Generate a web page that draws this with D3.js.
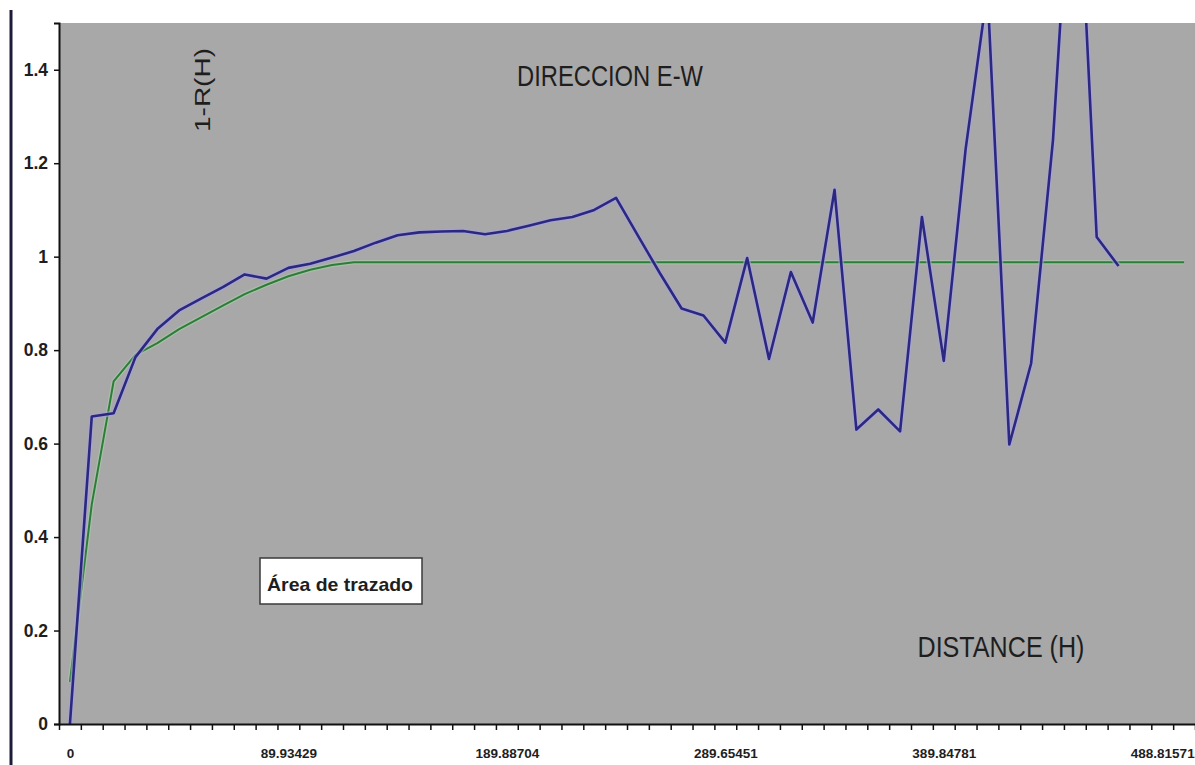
<!DOCTYPE html>
<html>
<head>
<meta charset="utf-8">
<script src="https://cdn.jsdelivr.net/npm/d3@7"></script>
<style>
  html, body { margin: 0; padding: 0; background: #ffffff; }
  svg { display: block; }
  text { font-family: "Liberation Sans", Arial, sans-serif; fill: #1e1e1e; }
</style>
</head>
<body>
<svg id="chart" width="1195" height="765"></svg>
<script>
// Lag categories (one per lag class) and the labels shown along the axis
const categories = d3.range(52);
const tickLabelIndex = [0, 10, 20, 30, 40, 50];
const tickLabels = ["0", "89.93429", "189.88704", "289.65451", "389.84781", "488.81571"];

// Experimental 1-R(H) per lag class
const experimental = [
  0.000, 0.658, 0.665, 0.785, 0.845, 0.885, 0.910, 0.935, 0.962, 0.953,
  0.976, 0.985, 0.998, 1.012, 1.030, 1.046, 1.052, 1.054, 1.055, 1.048,
  1.055, 1.066, 1.078, 1.085, 1.100, 1.126, 1.045, 0.965, 0.889, 0.874,
  0.816, 0.997, 0.781, 0.967, 0.859, 1.143, 0.630, 0.673, 0.626, 1.085,
  0.777, 1.230, 1.570, 0.598, 0.772, 1.250, 2.000, 1.042, 0.980
];

// Fitted model per lag class
const model = [
  0.090, 0.470, 0.733, 0.790, 0.815, 0.845, 0.870, 0.895, 0.920, 0.940,
  0.958, 0.972, 0.982, 0.988, 0.988, 0.988, 0.988, 0.988, 0.988, 0.988,
  0.988, 0.988, 0.988, 0.988, 0.988, 0.988, 0.988, 0.988, 0.988, 0.988,
  0.988, 0.988, 0.988, 0.988, 0.988, 0.988, 0.988, 0.988, 0.988, 0.988,
  0.988, 0.988, 0.988, 0.988, 0.988, 0.988, 0.988, 0.988, 0.988, 0.988,
  0.988, 0.988
];

const yTicks = [0, 0.2, 0.4, 0.6, 0.8, 1, 1.2, 1.4];

const svg = d3.select("#chart");
const plot = { left: 59, right: 1195, top: 23, bottom: 724 };

const x = d3.scalePoint()
  .domain(categories)
  .range([plot.left, plot.right])
  .padding(0.5);

// boundaries between lag classes, for the minor tick marks
const xEdge = d3.scaleLinear()
  .domain([0, categories.length])
  .range([plot.left, plot.right]);

const y = d3.scaleLinear()
  .domain([0, 1.5])
  .range([plot.bottom, plot.top]);

// frame line at the far left
svg.append("line")
  .attr("x1", 11).attr("x2", 11)
  .attr("y1", 10).attr("y2", 765)
  .attr("stroke", "#1c1c3a").attr("stroke-width", 3);

// plot area
svg.append("rect")
  .attr("x", plot.left).attr("y", plot.top)
  .attr("width", plot.right - plot.left)
  .attr("height", plot.bottom - plot.top)
  .attr("fill", "#a8a8a8");

svg.append("clipPath").attr("id", "plot-clip")
  .append("rect")
  .attr("x", plot.left).attr("y", plot.top)
  .attr("width", plot.right - plot.left)
  .attr("height", plot.bottom - plot.top);

const lines = svg.append("g").attr("clip-path", "url(#plot-clip)");

const line = d3.line()
  .x((d, i) => x(categories[i]))
  .y(d => y(d));

// model curve
lines.append("path").datum(model)
  .attr("d", line).attr("fill", "none")
  .attr("stroke", "#a9cfa8").attr("stroke-opacity", 0.55).attr("stroke-width", 4.5)
  .attr("stroke-linejoin", "round");
lines.append("path").datum(model)
  .attr("d", line).attr("fill", "none")
  .attr("stroke", "#2d7d3a").attr("stroke-width", 2)
  .attr("stroke-linejoin", "round");

// experimental curve
lines.append("path").datum(experimental)
  .attr("d", line).attr("fill", "none")
  .attr("stroke", "#a8a2d6").attr("stroke-opacity", 0.65).attr("stroke-width", 5.5)
  .attr("stroke-linejoin", "round");
lines.append("path").datum(experimental)
  .attr("d", line).attr("fill", "none")
  .attr("stroke", "#2a2880").attr("stroke-width", 2.6)
  .attr("stroke-linejoin", "round");

// y axis
const yAxis = svg.append("g")
  .attr("transform", `translate(${plot.left},0)`)
  .call(d3.axisLeft(y).tickValues(yTicks).tickFormat(d3.format("~g")).tickSize(5).tickPadding(6));
yAxis.select(".domain").attr("stroke", "#111").attr("stroke-width", 2);
yAxis.selectAll(".tick line").attr("stroke", "#111").attr("stroke-width", 1.5);
yAxis.selectAll(".tick text")
  .style("font-family", "'Liberation Sans', Arial, sans-serif")
  .style("font-size", "17.5px").style("font-weight", "bold").attr("fill", "#1e1e1e");

// x axis: minor ticks on class boundaries
const xAxis = svg.append("g")
  .attr("transform", `translate(0,${plot.bottom})`)
  .call(d3.axisBottom(xEdge).tickValues(d3.range(categories.length + 1)).tickFormat("").tickSize(6).tickSizeOuter(0));
xAxis.select(".domain").attr("stroke", "#111").attr("stroke-width", 2);
xAxis.selectAll(".tick line").attr("stroke", "#111").attr("stroke-width", 1.5);

// x axis labels at class centres
const xLab = svg.append("g")
  .attr("transform", `translate(0,${plot.bottom})`)
  .call(d3.axisBottom(x).tickValues(tickLabelIndex)
    .tickFormat(d => tickLabels[tickLabelIndex.indexOf(d)])
    .tickSize(0).tickPadding(24));
xLab.select(".domain").remove();
xLab.selectAll(".tick text")
  .style("font-family", "'Liberation Sans', Arial, sans-serif")
  .style("font-size", "13.5px").style("font-weight", "bold").attr("fill", "#1e1e1e");

// titles
function label(txt, px, py, size, width, opts = {}) {
  const t = svg.append("text")
    .attr("x", px).attr("y", py)
    .attr("text-anchor", "middle")
    .style("font-size", size + "px")
    .style("font-weight", opts.bold ? "bold" : "normal")
    .text(txt);
  if (width) t.attr("textLength", width).attr("lengthAdjust", "spacingAndGlyphs");
  if (opts.rotate) t.attr("transform", `rotate(${opts.rotate},${px},${py})`);
  return t;
}

label("DIRECCION E-W", 610, 86, 30, 186);
label("DISTANCE (H)", 1001, 657, 30, 167);
label("1-R(H)", 210, 90, 22, 84, { rotate: -90 });

// plot-area caption box
svg.append("rect")
  .attr("x", 260).attr("y", 558).attr("width", 162).attr("height", 46)
  .attr("fill", "#ffffff").attr("stroke", "#3a3a3a").attr("stroke-width", 1.5);
label("Área de trazado", 340, 591, 19, 146, { bold: true });
</script>
</body>
</html>
